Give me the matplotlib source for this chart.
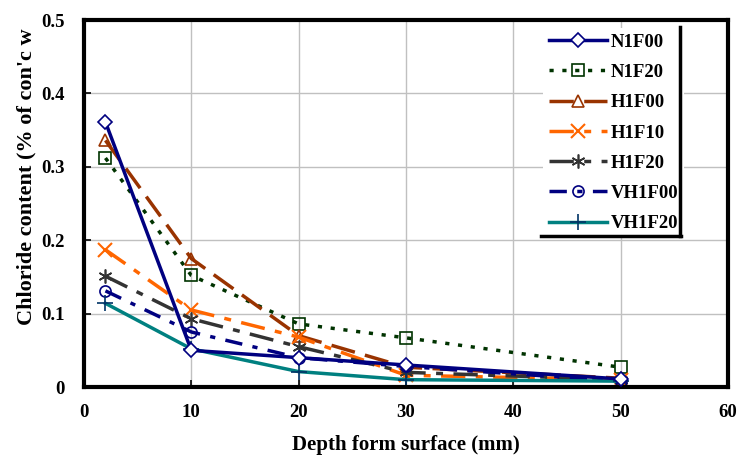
import matplotlib.pyplot as plt
from matplotlib.lines import Line2D

plt.rcParams['font.family'] = ['Liberation Serif', 'DejaVu Serif']
plt.rcParams['font.weight'] = 'bold'

depth = [2, 10, 20, 30, 50]
n1f00 = [0.361, 0.050, 0.040, 0.030, 0.011]
n1f20 = [0.312, 0.152, 0.086, 0.067, 0.027]
h1f00 = [0.336, 0.175, 0.070, 0.027, 0.012]
h1f10 = [0.187, 0.105, 0.068, 0.016, 0.010]
h1f20 = [0.151, 0.093, 0.055, 0.020, 0.010]
vh1f00 = [0.131, 0.075, 0.040, 0.028, 0.008]
vh1f20 = [0.114, 0.052, 0.021, 0.010, 0.008]

fig = plt.figure(figsize=(7.48, 4.66), dpi=100)
ax = fig.add_axes([0.1123, 0.1695, 0.8607, 0.7875])

ax.plot(depth, n1f00, color='#000080', lw=2.5, ls='-', marker='D', ms=7,
        mfc='white', mec='#000080', mew=1.2, label='N1F00', zorder=5)
ax.plot(depth, n1f20, color='#003300', lw=2.5, ls=(0, (1.2, 2.5)), marker='s', ms=8,
        mfc='none', mec='#003300', mew=1.2, label='N1F20')
ax.plot(depth, h1f00, color='#993300', lw=2.5, ls=(0, (7, 3)), marker='^', ms=9,
        mfc='none', mec='#993300', mew=1.2, label='H1F00')
ax.plot(depth, h1f10, color='#FF6600', lw=2.5, ls=(0, (7, 3, 2, 3)), marker='x', ms=10,
        mec='#FF6600', mew=1.5, label='H1F10')
ax.plot(depth, h1f20, color='#333333', lw=2.5, ls=(0, (7, 3, 2, 3)), marker=(6, 2, 0), ms=10,
        mec='#333333', mew=1.2, label='H1F20')
ax.plot(depth, vh1f00, color='#000080', lw=2.5, ls=(0, (5, 3, 1.5, 3)), marker='o', ms=8,
        mfc='none', mec='#000080', mew=1.2, label='VH1F00')
ax.plot(depth, vh1f20, color='#008080', lw=2.5, ls='-', marker='+', ms=11,
        mec='#003366', mew=1.2, label='VH1F20')

ax.set_xlim(0, 60)
ax.set_ylim(0, 0.5)
ax.set_xticks([0, 10, 20, 30, 40, 50, 60])
ax.set_yticks([0, 0.1, 0.2, 0.3, 0.4, 0.5])
ax.set_yticklabels(['0', '0.1', '0.2', '0.3', '0.4', '0.5'])
ax.grid(True, color='#c0c0c0', lw=1)
ax.set_axisbelow(True)
ax.tick_params(direction='in', length=5, width=1.2, labelsize=13.5)
ax.tick_params(axis='y', pad=14)
ax.tick_params(axis='x', pad=12)
for s in ax.spines.values():
    s.set_linewidth(3)
    s.set_color('black')

ax.set_xlabel('Depth form surface (mm)', fontsize=15, fontweight='bold', labelpad=10)
fig.text(0.036, 0.62, "Chloride content (% of con'c w", rotation=90, fontsize=16,
         fontweight='bold', ha='center', va='center')

leg = ax.legend(loc='upper left', bbox_to_anchor=(543 / 748, 1 - 28 / 466),
                bbox_transform=fig.transFigure, frameon=True, fancybox=False,
                handlelength=3.1, handletextpad=0.2, labelspacing=0.7,
                borderpad=0.3, borderaxespad=0, prop={'weight': 'bold', 'size': 13.5})
leg.get_frame().set_facecolor('white')
leg.get_frame().set_edgecolor('none')
leg.get_frame().set_alpha(1)

# shadow-like right and bottom border of the legend box
fig.add_artist(Line2D([680 / 748, 680 / 748], [1 - 27 / 466, 1 - 236 / 466],
                      color='black', lw=2.5, transform=fig.transFigure))
fig.add_artist(Line2D([541 / 748, 681 / 748], [1 - 236 / 466, 1 - 236 / 466],
                      color='black', lw=2.5, transform=fig.transFigure))

fig.savefig('out.png', dpi=100)
